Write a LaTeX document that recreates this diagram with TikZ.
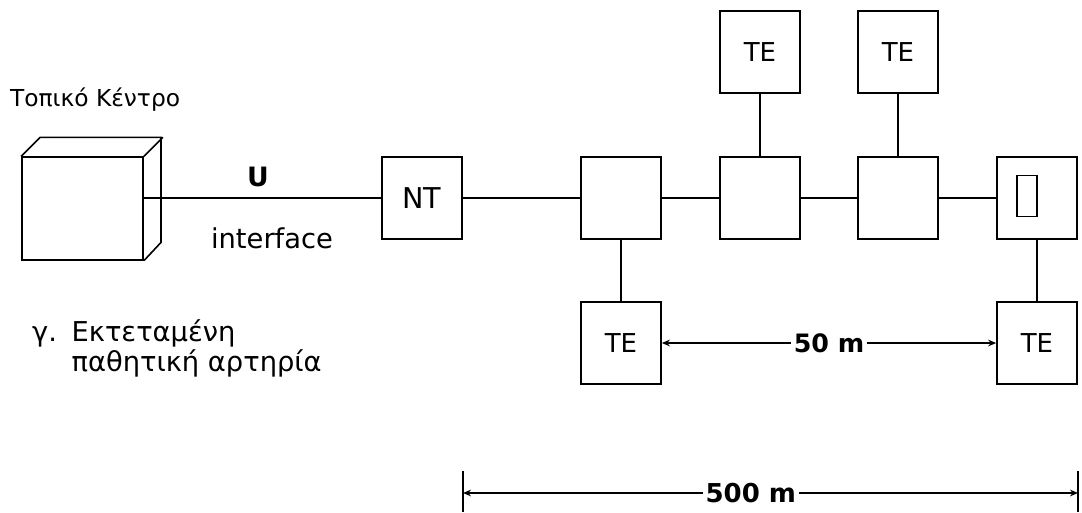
\documentclass[tikz,border=0pt]{standalone}
\usepackage{fontspec}
\setmainfont{DejaVu Sans}
\usetikzlibrary{arrows.meta}
\begin{document}
\begin{tikzpicture}[x=0.75pt,y=-0.75pt,
  line width=1.2pt,
  box/.style={draw,line width=1.3pt,minimum width=60pt,minimum height=61pt,inner sep=0pt,font=\fontsize{19.5}{20}\selectfont},
  lbl/.style={font=\fontsize{20.5}{22.5}\selectfont,inner sep=1pt},
  blbl/.style={font=\bfseries\fontsize{19}{22}\selectfont,inner sep=2pt,fill=white},
  dim/.style={line width=1pt,{Stealth[length=6pt,width=5pt]}-{Stealth[length=6pt,width=5pt]}}]
\useasboundingbox (0,0) rectangle (1082,512);

% cube (Topiko Kentro)
\node[draw,line width=1.2pt,minimum width=91pt,minimum height=77pt,inner sep=0pt] (cube) at (82.5,208.5) {};
\draw[line width=1.2pt] (cube.north west) -- ++(19,-19) -- ++(121,0) -- ++(0,105) -- (cube.south east);
\draw[line width=1.2pt] (cube.north east) -- ++(19,-19);
\node[lbl,anchor=west,font=\fontsize{17.5}{20}\selectfont] (tk) at (8,100) {Τοπικό Κέντρο};

% main boxes
\node[box,font=\fontsize{21.5}{22}\selectfont] (NT) at (422,198) {NT};
\node[box] (B1) at (621,198) {};
\node[box] (B2) at (760,198) {};
\node[box] (B3) at (898,198) {};
\node[box] (B4) at (1037,198) {};
\node[draw,line width=1.2pt,minimum width=15pt,minimum height=31pt,inner sep=0pt] (slot) at (1027,196) {};

\node[box] (T1) at (760,52) {TE};
\node[box] (T2) at (898,52) {TE};
\node[box] (T3) at (621,343) {TE};
\node[box] (T4) at (1037,343) {TE};

% connectors
\draw (NT.west -| cube.east) -- (NT.west);
\node[blbl,fill=none,font=\bfseries\fontsize{20}{22}\selectfont] (U) at (258,177) {U};
\node[lbl] (intf) at (272,238) {interface};
\draw (NT.east) -- (B1.west);
\draw (B1.east) -- (B2.west);
\draw (B2.east) -- (B3.west);
\draw (B3.east) -- (B4.west);
\draw (T1.south) -- (B2.north);
\draw (T2.south) -- (B3.north);
\draw (B1.south) -- (T3.north);
\draw (B4.south) -- (T4.north);

% 50 m
\draw[dim] (T3.east) -- node[blbl] (d50) {50 m} (T4.west);

% 500 m
\coordinate (L) at (463,493);
\coordinate (R) at (1078,493);
\draw[line width=1.3pt] (463,471) -- (463,512);
\draw[line width=1.3pt] (1078,471) -- (1078,512);
\draw[dim] (L) -- node[blbl,pos=0.468,font=\bfseries\fontsize{19.5}{22}\selectfont] (d500) {500 m} (R);

% caption
\node[lbl,anchor=north west] (cap) at (30,317) {\begin{tabular}{@{}l@{\hspace{11pt}}l@{}}γ. & Εκτεταμένη\\ & παθητική αρτηρία\end{tabular}};
\end{tikzpicture}
\end{document}
